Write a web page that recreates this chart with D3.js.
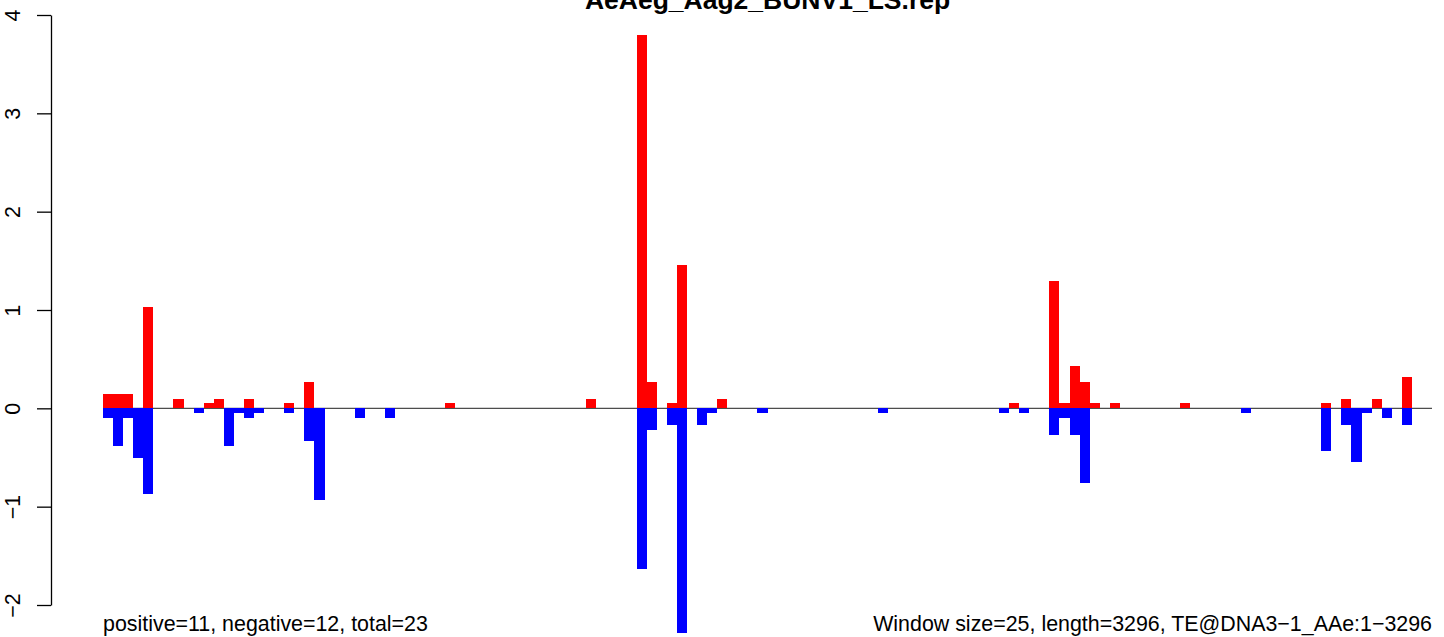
<!DOCTYPE html>
<html>
<head>
<meta charset="utf-8">
<script src="https://cdn.jsdelivr.net/npm/d3@7"></script>
<style>
  body { margin: 0; background: #fff; }
  svg { display: block; font-family: "Liberation Sans", Arial, sans-serif; }
</style>
</head>
<body>
<script>
// chart values, one entry per 25 nt window (132 windows)
const titleText = "AeAeg_Aag2_BUNV1_LS.rep";
const leftNote = "positive=11, negative=12, total=23";
const rightNote = "Window size=25, length=3296, TE@DNA3\u22121_AAe:1\u22123296";
const yTicks = [-2, -1, 0, 1, 2, 3, 4];

const positive = [
  0.15, 0.15, 0.15, 0, 1.03, 0, 0, 0.1, 0, 0,
  0.05, 0.1, 0, 0, 0.1, 0, 0, 0, 0.05, 0,
  0.265, 0, 0, 0, 0, 0, 0, 0, 0, 0,
  0, 0, 0, 0, 0.05, 0, 0, 0, 0, 0,
  0, 0, 0, 0, 0, 0, 0, 0, 0.1, 0,
  0, 0, 0, 3.8, 0.265, 0, 0.05, 1.456, 0, 0,
  0, 0.1, 0, 0, 0, 0, 0, 0, 0, 0,
  0, 0, 0, 0, 0, 0, 0, 0, 0, 0,
  0, 0, 0, 0, 0, 0, 0, 0, 0, 0,
  0.05, 0, 0, 0, 1.293, 0.05, 0.43, 0.265, 0.05, 0,
  0.05, 0, 0, 0, 0, 0, 0, 0.05, 0, 0,
  0, 0, 0, 0, 0, 0, 0, 0, 0, 0,
  0, 0.05, 0, 0.1, 0, 0, 0.1, 0, 0, 0.315,
  0, 0
];

const negative = [
  -0.1, -0.38, -0.1, -0.5, -0.87, 0, 0, 0, 0, -0.05,
  0, 0, -0.38, -0.05, -0.1, -0.05, 0, 0, -0.05, 0,
  -0.33, -0.93, 0, 0, 0, -0.1, 0, 0, -0.1, 0,
  0, 0, 0, 0, 0, 0, 0, 0, 0, 0,
  0, 0, 0, 0, 0, 0, 0, 0, 0, 0,
  0, 0, 0, -1.63, -0.22, 0, -0.17, -2.28, 0, -0.17,
  -0.05, 0, 0, 0, 0, -0.05, 0, 0, 0, 0,
  0, 0, 0, 0, 0, 0, 0, -0.05, 0, 0,
  0, 0, 0, 0, 0, 0, 0, 0, 0, -0.05,
  0, -0.05, 0, 0, -0.27, -0.1, -0.27, -0.76, 0, 0,
  0, 0, 0, 0, 0, 0, 0, 0, 0, 0,
  0, 0, 0, -0.05, 0, 0, 0, 0, 0, 0,
  0, -0.43, 0, -0.17, -0.55, -0.05, 0, -0.1, 0, -0.17,
  0, 0
];

const windows = d3.range(positive.length);

const W = 1444, H = 637;

const svg = d3.select("body").append("svg")
  .attr("width", W)
  .attr("height", H);

// scales
const x = d3.scaleBand()
  .domain(windows)
  .range([103, 1432])
  .padding(0);

const y = d3.scaleLinear()
  .domain([-2, 4])
  .range([605, 15]);

// zero line
svg.append("line")
  .attr("x1", x.range()[0])
  .attr("x2", x.range()[1])
  .attr("y1", y(0))
  .attr("y2", y(0))
  .attr("stroke", "#4d4d4d")
  .attr("stroke-width", 1.2);

// positive bars (red)
svg.selectAll(".pos")
  .data(windows.filter(i => positive[i] > 0))
  .enter().append("rect")
  .attr("class", "pos")
  .attr("x", i => x(i))
  .attr("width", x.bandwidth())
  .attr("y", i => y(positive[i]))
  .attr("height", i => y(0) - y(positive[i]))
  .attr("fill", "#ff0000")
  .attr("shape-rendering", "crispEdges");

// negative bars (blue)
svg.selectAll(".neg")
  .data(windows.filter(i => negative[i] < 0))
  .enter().append("rect")
  .attr("class", "neg")
  .attr("x", i => x(i))
  .attr("width", x.bandwidth())
  .attr("y", y(0))
  .attr("height", i => y(negative[i]) - y(0))
  .attr("fill", "#0000ff")
  .attr("shape-rendering", "crispEdges");

// y axis, R style with rotated labels
const yAxis = svg.append("g")
  .attr("transform", "translate(51,0)")
  .call(d3.axisLeft(y)
    .tickValues(yTicks)
    .tickSize(14)
    .tickSizeOuter(0)
    .tickFormat(d => d < 0 ? "\u2212" + Math.abs(d) : String(d)));

yAxis.select(".domain").attr("stroke", "#000").attr("stroke-width", 1.3);
yAxis.selectAll(".tick line").attr("stroke", "#000").attr("stroke-width", 1.3);
yAxis.selectAll(".tick text")
  .attr("x", null)
  .attr("dy", null)
  .attr("font-size", 21.4)
  .attr("font-family", "Liberation Sans, Arial, sans-serif")
  .attr("fill", "#000")
  .attr("text-anchor", "middle")
  .attr("transform", "translate(-31,0) rotate(-90)");

// title
svg.append("text")
  .attr("x", (x.range()[0] + x.range()[1]) / 2)
  .attr("y", 9)
  .attr("text-anchor", "middle")
  .attr("font-size", 26.5)
  .attr("font-weight", "bold")
  .text(titleText);

// footnotes
svg.append("text")
  .attr("x", x.range()[0])
  .attr("y", 631)
  .attr("font-size", 21.4)
  .text(leftNote);

svg.append("text")
  .attr("x", x.range()[1])
  .attr("y", 631)
  .attr("text-anchor", "end")
  .attr("font-size", 21.4)
  .text(rightNote);
</script>
</body>
</html>
